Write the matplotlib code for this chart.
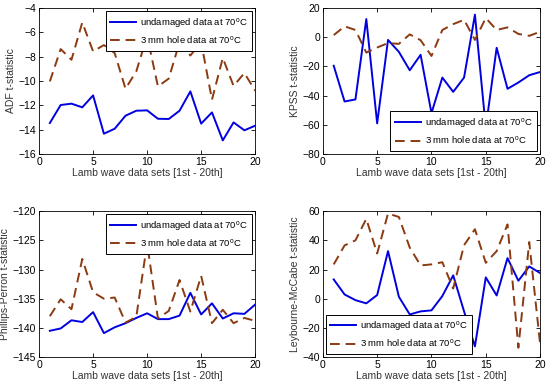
import matplotlib
matplotlib.use("Agg")
import matplotlib.pyplot as plt

x = list(range(1, 21))

adf_und = [-13.45, -11.97, -11.86, -12.16, -11.18, -14.33, -13.92, -12.85, -12.44, -12.41,
           -13.1, -13.12, -12.44, -10.85, -13.5, -12.58, -14.88, -13.4, -14.05, -13.67]
adf_hole = [-10.03, -7.37, -8.25, -5.18, -7.56, -7.04, -7.70, -10.63, -9.2, -6.3,
            -10.44, -9.8, -6.8, -7.9, -6.8, -11.53, -8.1, -10.4, -9.34, -10.8]

kpss_und = [-19.5, -44, -42.6, 12.5, -59, -1.8, -10, -22.6, -12, -52,
            -27.6, -37.4, -27.6, 15.5, -62, -7.2, -35.3, -31, -26, -23.8]
kpss_hole = [1.5, 7.5, 5, -10.5, -7, -4, -4.5, 2, -2, -12.8,
             5, 9, 12, -1.8, 13.2, 5, 6.8, 2.3, 1.0, 3.8]

pp_und = [-140.5, -140.1, -138.7, -139.0, -137.3, -140.9, -139.9, -139.2, -138.3, -137.5,
          -138.5, -138.5, -137.9, -134.0, -137.7, -135.8, -138.4, -137.5, -137.6, -136.0]
pp_hole = [-138.0, -135.1, -136.8, -128.2, -133.9, -135.0, -134.8, -139.1, -138.1, -125.5,
           -138.4, -137.1, -131.8, -137.2, -131.1, -139.2, -136.9, -139.2, -138.3, -138.8]

lm_und = [13.2, 2.9, -1, -3.2, 2.5, 32.6, 1.3, -10.8, -8.7, -8,
          1.8, 16, -8.7, -32.7, 14.6, 2.2, 27.8, 12.3, 22.1, 17.6]
lm_hole = [23.5, 36.5, 40, 54.7, 31, 58.4, 56, 35, 22.8, 23.5,
           25, 7, 36.7, 47.6, 24.6, 32.6, 50.9, -33.6, 38.8, -31]

xlabel = "Lamb wave data sets [1st - 20th]"
lab_und = "undamaged data at 70$^{\\rm o}$C"
lab_hole = "3 mm hole data at 70$^{\\rm o}$C"

panels = [
    (adf_und, adf_hole, "ADF t-statistic", (-16, -4), list(range(-16, -3, 2)), "upper right"),
    (kpss_und, kpss_hole, "KPSS t-statistic", (-80, 20), list(range(-80, 21, 20)), "lower right"),
    (pp_und, pp_hole, "Phillips-Perron t-statistic", (-145, -120), list(range(-145, -119, 5)), "upper right"),
    (lm_und, lm_hole, "Leybourne-McCabe t-statistic", (-40, 60), list(range(-40, 61, 20)), "lower left"),
]

plt.rcParams['font.family'] = ['Liberation Sans', 'DejaVu Sans']
plt.rcParams['mathtext.fontset'] = 'custom'
plt.rcParams['mathtext.rm'] = 'Liberation Sans'

fig = plt.figure(figsize=(5.5, 3.86), dpi=100)
rects = [
    [0.071, 0.601, 0.393, 0.378],
    [0.587, 0.601, 0.395, 0.378],
    [0.071, 0.075, 0.393, 0.378],
    [0.587, 0.075, 0.395, 0.378],
]

blue = '#0000e0'
brown = '#8B3A12'

for rect, (u, h, ylab, ylim, yt, loc) in zip(rects, panels):
    ax = fig.add_axes(rect)
    ax.plot(x, u, color=blue, lw=1.4, label=lab_und)
    ax.plot(x, h, color=brown, lw=1.4, ls=(0, (5, 3)), label=lab_hole)
    ax.set_xlim(0, 20)
    ax.set_ylim(*ylim)
    ax.set_xticks([0, 5, 10, 15, 20])
    ax.set_yticks(yt)
    ax.tick_params(direction='in', top=True, right=True, labelsize=7.5, length=3, width=0.6, pad=2)
    for s in ax.spines.values():
        s.set_linewidth(0.6)
    ax.set_xlabel(xlabel, fontsize=7.5, labelpad=1, color='#333333')
    ax.set_ylabel(ylab, fontsize=7.5, labelpad=2, color='#333333')
    leg = ax.legend(loc=loc, fontsize=6.8, fancybox=False, framealpha=1, edgecolor='black',
                    handlelength=2.7, handletextpad=0.45, borderpad=0.5, labelspacing=0.45,
                    borderaxespad=0.3)
    leg.get_frame().set_linewidth(0.7)

fig.savefig("out.png", dpi=100)
